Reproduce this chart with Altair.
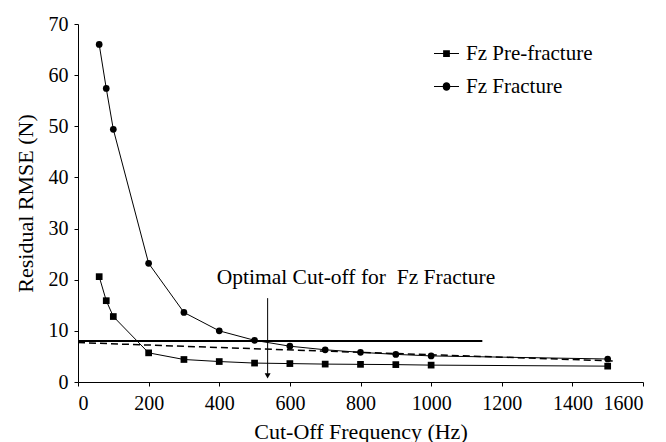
import altair as alt
import pandas as pd

# ---- data ----
freq = [60, 80, 100, 200, 300, 400, 500, 600, 700, 800, 900, 1000, 1500]
pre_fracture = [20.6, 15.9, 12.8, 5.7, 4.4, 4.0, 3.7, 3.6, 3.5, 3.45, 3.4, 3.3, 3.1]
fracture = [66.0, 57.4, 49.4, 23.2, 13.6, 10.0, 8.15, 7.0, 6.3, 5.8, 5.4, 5.1, 4.5]
series_names = ["Fz Pre-fracture", "Fz Fracture"]

threshold_x = [0, 1145]
threshold_y = [8.0]
dashed_x = [0, 1520]
dashed_y = [7.7, 4.1]
arrow_x = [537]
arrow_y = [16.4, 1.6]
arrow_tip_y = [1.2]
annotation_text = ["Optimal Cut-off for\u00a0 Fz Fracture"]
annotation_x = [393]
annotation_y = [20.4]

x_title = "Cut-Off Frequency (Hz)"
y_title = "Residual RMSE (N)"

FONT = "Times New Roman, Liberation Serif, serif"

# ---- tables ----
df = pd.DataFrame({
    "freq": freq * 2,
    "rmse": pre_fracture + fracture,
    "series": [series_names[0]] * len(freq) + [series_names[1]] * len(freq),
})
thr = pd.DataFrame({"x": [threshold_x[0]], "x2": [threshold_x[1]], "y": threshold_y})
dash = pd.DataFrame({"x": dashed_x, "y": dashed_y})
arr = pd.DataFrame({"x": arrow_x, "y": [arrow_y[0]], "y2": [arrow_y[1]]})
tip = pd.DataFrame({"x": arrow_x, "y": arrow_tip_y})
ann = pd.DataFrame({"x": annotation_x, "y": annotation_y, "t": annotation_text})

xscale = alt.Scale(domain=[0, 1600], nice=False)
yscale = alt.Scale(domain=[0, 70], nice=False)

xaxis = alt.Axis(values=list(range(0, 1601, 200)), title=x_title, grid=False, format="d",
                 tickSize=4, labelPadding=7, titlePadding=8)
yaxis = alt.Axis(values=list(range(0, 71, 10)), title=y_title, grid=False, format="d",
                 tickSize=4, labelPadding=6, titlePadding=11)

X = alt.X("freq:Q", scale=xscale, axis=xaxis)
Y = alt.Y("rmse:Q", scale=yscale, axis=yaxis)

lines = alt.Chart(df).mark_line(color="black", strokeWidth=1).encode(
    x=X, y=Y, detail="series:N"
)

points = alt.Chart(df).mark_point(filled=True, color="black", opacity=1, size=45).encode(
    x=X, y=Y,
    shape=alt.Shape("series:N",
                    scale=alt.Scale(domain=series_names, range=["square", "circle"]),
                    legend=None),
)

sq_path = "M-1,-0.045H-0.27V-0.27H0.27V-0.045H1V0.045H0.27V0.27H-0.27V0.045H-1Z"
ci_path = ("M-1,-0.045H-0.3A0.3,0.3 0 0,1 0.3,-0.045H1V0.045H0.3"
           "A0.3,0.3 0 0,1 -0.3,0.045H-1Z")

legend_layer = alt.Chart(df).mark_point(filled=True, color="black", opacity=0, size=1).encode(
    x=X, y=Y,
    shape=alt.Shape("series:N",
                    scale=alt.Scale(domain=series_names, range=[sq_path, ci_path]),
                    legend=alt.Legend(title=None, orient="none", legendX=356, legendY=17,
                                      symbolSize=625, symbolOpacity=1,
                                      symbolFillColor="black", symbolStrokeColor="black",
                                      symbolStrokeWidth=0, labelFont=FONT, labelFontSize=21,
                                      labelColor="black", labelOffset=7, rowPadding=10,
                                      padding=0)),
)

thr_rule = alt.Chart(thr).mark_rule(color="black", strokeWidth=2).encode(
    x=alt.X("x:Q", scale=xscale), x2="x2:Q", y=alt.Y("y:Q", scale=yscale)
)

dash_line = alt.Chart(dash).mark_line(color="black", strokeWidth=1.5, strokeDash=[7, 4]).encode(
    x=alt.X("x:Q", scale=xscale), y=alt.Y("y:Q", scale=yscale)
)

arrow_rule = alt.Chart(arr).mark_rule(color="black", strokeWidth=1).encode(
    x=alt.X("x:Q", scale=xscale), y=alt.Y("y:Q", scale=yscale), y2="y2:Q"
)

arrow_tip = alt.Chart(tip).mark_point(shape="triangle-down", filled=True, color="black",
                                      opacity=1, size=35).encode(
    x=alt.X("x:Q", scale=xscale), y=alt.Y("y:Q", scale=yscale)
)

ann_text = alt.Chart(ann).mark_text(align="left", baseline="middle", font=FONT,
                                    fontSize=21.5, color="black").encode(
    x=alt.X("x:Q", scale=xscale), y=alt.Y("y:Q", scale=yscale), text="t:N"
)

chart = alt.layer(
    thr_rule, dash_line, lines, points, legend_layer, arrow_rule, arrow_tip, ann_text
).resolve_scale(shape="independent").properties(
    width=565, height=358,
    autosize=alt.AutoSizeParams(type="none"),
    padding={"left": 70, "top": 16, "right": 15, "bottom": 60},
).configure_view(stroke=None).configure_axis(
    labelFont=FONT, titleFont=FONT, labelFontSize=20, titleFontSize=22,
    titleFontWeight="normal", labelColor="black", titleColor="black",
    domainColor="black", tickColor="black", domainWidth=1, tickWidth=1,
)

chart.save("out.html", embed_options={"renderer": "svg", "actions": False})
